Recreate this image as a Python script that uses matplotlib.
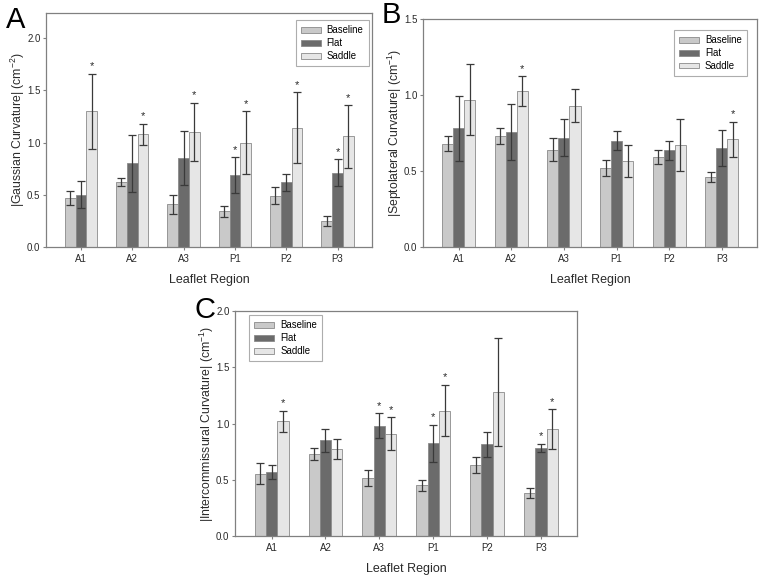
import matplotlib
matplotlib.use("Agg")
import matplotlib.pyplot as plt
import numpy as np

plt.rcParams['font.family'] = ['Liberation Sans', 'DejaVu Sans']
plt.rcParams['mathtext.fontset'] = 'custom'
plt.rcParams['mathtext.rm'] = 'Liberation Sans'
plt.rcParams['mathtext.it'] = 'Liberation Sans'

regions = ["A1", "A2", "A3", "P1", "P2", "P3"]
series = ["Baseline", "Flat", "Saddle"]

# Panel A: |Gaussian Curvature|
a_base = [0.47, 0.62, 0.41, 0.34, 0.49, 0.25]
a_base_err = [0.07, 0.04, 0.09, 0.05, 0.08, 0.05]
a_flat = [0.50, 0.80, 0.855, 0.69, 0.62, 0.71]
a_flat_err = [0.13, 0.27, 0.26, 0.17, 0.08, 0.13]
a_sad = [1.30, 1.08, 1.10, 1.00, 1.14, 1.06]
a_sad_err = [0.36, 0.10, 0.28, 0.30, 0.34, 0.30]
a_star_flat = [False, False, False, True, False, True]
a_star_sad = [True, True, True, True, True, True]

# Panel B: |Septolateral Curvature|
b_base = [0.68, 0.73, 0.64, 0.52, 0.59, 0.46]
b_base_err = [0.05, 0.05, 0.075, 0.055, 0.045, 0.035]
b_flat = [0.78, 0.755, 0.72, 0.70, 0.635, 0.65]
b_flat_err = [0.215, 0.185, 0.12, 0.065, 0.06, 0.12]
b_sad = [0.97, 1.025, 0.93, 0.565, 0.67, 0.71]
b_sad_err = [0.235, 0.10, 0.11, 0.105, 0.17, 0.115]
b_star_flat = [False, False, False, False, False, False]
b_star_sad = [False, True, False, False, False, True]

# Panel C: |Intercommissural Curvature|
c_base = [0.555, 0.73, 0.515, 0.45, 0.63, 0.385]
c_base_err = [0.095, 0.055, 0.07, 0.05, 0.07, 0.045]
c_flat = [0.57, 0.85, 0.98, 0.825, 0.815, 0.785]
c_flat_err = [0.06, 0.105, 0.11, 0.165, 0.11, 0.035]
c_sad = [1.02, 0.775, 0.91, 1.115, 1.28, 0.95]
c_sad_err = [0.095, 0.09, 0.145, 0.23, 0.48, 0.18]
c_star_flat = [False, False, True, True, False, True]
c_star_sad = [True, False, True, True, False, True]

colors = ["#c9c9c9", "#6b6b6b", "#e6e6e6"]
frame_col = "#808080"
text_col = "#2a2a2a"

W, H = 764, 578
fig = plt.figure(figsize=(W / 100, H / 100), dpi=100)


def px_axes(l, t, r, b):
    return fig.add_axes([l / W, 1 - b / H, (r - l) / W, (b - t) / H])


def panel(ax, base, base_err, flat, flat_err, sad, sad_err, star_flat, star_sad,
          ymax, yticks, ylabel, letter, letter_xy, legend_loc, legend_anchor):
    x = np.arange(len(regions))
    w = 0.21
    vals = [base, flat, sad]
    errs = [base_err, flat_err, sad_err]
    stars = [None, star_flat, star_sad]
    for i in range(3):
        xi = x + (i - 1) * w
        ax.bar(xi, vals[i], width=w, color=colors[i], edgecolor="#8a8a8a",
               linewidth=0.6, label=series[i], zorder=2)
        ax.errorbar(xi, vals[i], yerr=errs[i], fmt="none", ecolor="#3a3a3a",
                    elinewidth=0.9, capsize=3, capthick=0.9, zorder=3)
        if stars[i] is not None:
            for j in range(len(regions)):
                if stars[i][j]:
                    ax.text(xi[j], vals[i][j] + errs[i][j] + ymax * 0.01, "*",
                            ha="center", va="bottom", fontsize=8, color=text_col)
    ax.set_xlim(-0.68, len(regions) - 1 + 0.67)
    ax.set_ylim(0, ymax)
    ax.set_yticks(yticks)
    ax.set_yticklabels([f"{v:.1f}" for v in yticks])
    ax.set_xticks(x)
    ax.set_xticklabels(regions)
    ax.tick_params(axis="both", labelsize=7, color=frame_col, length=2.5,
                   width=0.8, labelcolor=text_col, direction="out")
    ax.tick_params(axis="x", pad=2.5)
    ax.tick_params(axis="y", pad=1.5)
    for s in ax.spines.values():
        s.set_color(frame_col)
        s.set_linewidth(0.9)
    ax.set_xlabel("Leaflet Region", fontsize=9, color=text_col, labelpad=7)
    ax.set_ylabel(ylabel, fontsize=8.8, color=text_col, labelpad=0)
    leg = ax.legend(loc=legend_loc, bbox_to_anchor=legend_anchor, fontsize=6.9,
                    frameon=True, fancybox=False, edgecolor="#999999",
                    handlelength=2.1, handleheight=0.55, borderpad=0.55,
                    labelspacing=0.3, handletextpad=0.6, borderaxespad=0)
    leg.get_frame().set_linewidth(0.8)
    fig.text(letter_xy[0] / W, 1 - letter_xy[1] / H, letter, fontsize=21,
             ha="left", va="top", color="black")


axA = px_axes(46, 13, 372, 247)
panel(axA, a_base, a_base_err, a_flat, a_flat_err, a_sad, a_sad_err,
      a_star_flat, a_star_sad, 2.24, [0.0, 0.5, 1.0, 1.5, 2.0],
      "|Gaussian Curvature| (cm$^{-2}$)", "A", (6, 6),
      "upper right", (0.99, 0.97))

axB = px_axes(423, 19, 757, 247)
panel(axB, b_base, b_base_err, b_flat, b_flat_err, b_sad, b_sad_err,
      b_star_flat, b_star_sad, 1.5, [0.0, 0.5, 1.0, 1.5],
      "|Septolateral Curvature| (cm$^{-1}$)", "B", (382, 1),
      "upper right", (0.97, 0.952))

axC = px_axes(235, 311, 577, 536)
panel(axC, c_base, c_base_err, c_flat, c_flat_err, c_sad, c_sad_err,
      c_star_flat, c_star_sad, 2.0, [0.0, 0.5, 1.0, 1.5, 2.0],
      "|Intercommissural Curvature| (cm$^{-1}$)", "C", (195, 296),
      "upper left", (0.041, 0.982))

fig.savefig("out.png", dpi=100)
